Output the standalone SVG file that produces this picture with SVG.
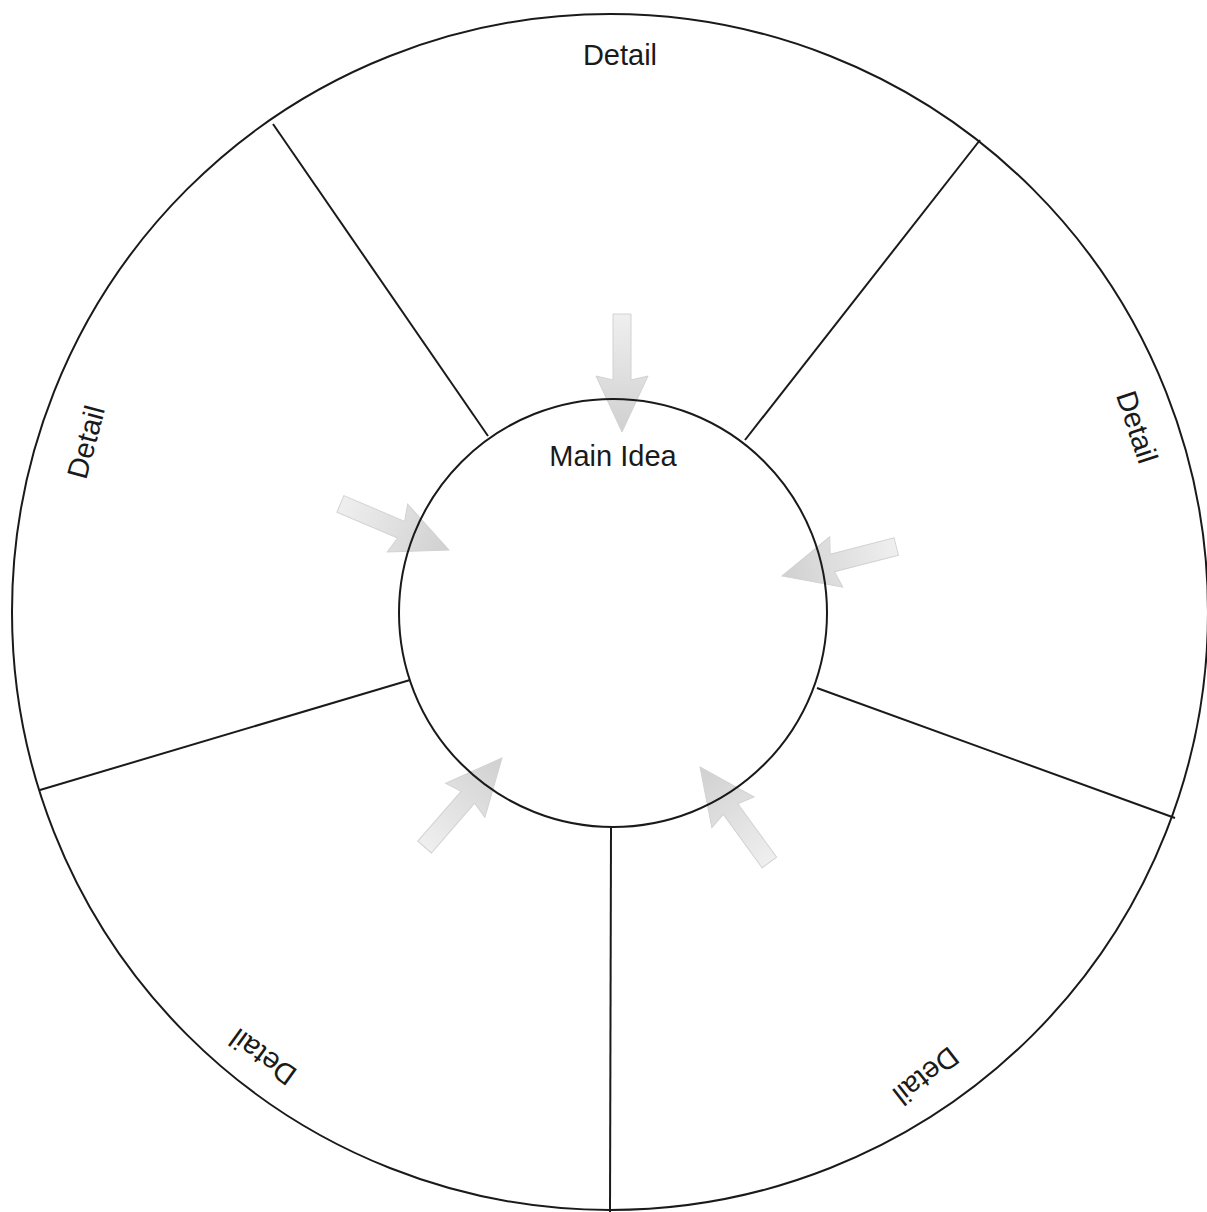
<svg xmlns="http://www.w3.org/2000/svg" width="1207" height="1212" viewBox="0 0 1207 1212">
<style>
.ln{fill:none;stroke:#1a1a1a;stroke-width:2}
.lbl{font-family:"Liberation Sans",Arial,sans-serif;font-size:29px;fill:#1a1a1a;text-anchor:middle}
.arr{fill:url(#g);stroke:#d2d2d2;stroke-width:1}
</style>
<defs>
<linearGradient id="g" x1="0" y1="0" x2="1" y2="0">
<stop offset="0" stop-color="#efefef"/>
<stop offset="1" stop-color="#d0d0d0"/>
</linearGradient>
<polygon id="arrow" points="-118,-9 -52,-9 -56,-26 0,0 -56,26 -52,9 -118,9"/>
</defs>
<rect width="1207" height="1212" fill="#fff"/>
<g id="outer"><circle class="ln" cx="610" cy="612" r="598"/></g>
<g id="connectors">
<line class="ln" x1="488" y1="436" x2="273" y2="124"/>
<line class="ln" x1="745" y1="440" x2="980" y2="140"/>
<line class="ln" x1="817" y1="688" x2="1175" y2="818"/>
<line class="ln" x1="611" y1="828" x2="610" y2="1212"/>
<line class="ln" x1="410" y1="680" x2="40" y2="790"/>
</g>
<g id="arrows">
<use href="#arrow" class="arr" transform="translate(622,432) rotate(90)"/>
<use href="#arrow" class="arr" transform="translate(449,550) rotate(23)"/>
<use href="#arrow" class="arr" transform="translate(782,576) rotate(165.5)"/>
<use href="#arrow" class="arr" transform="translate(502,758) rotate(-49)"/>
<use href="#arrow" class="arr" transform="translate(700,767) rotate(-126)"/>
</g>
<g id="main"><circle class="ln" cx="613" cy="613" r="214"/>
<text class="lbl" x="613" y="466">Main Idea</text></g>
<g id="detail1"><text class="lbl" x="620" y="65">Detail</text></g>
<g id="detail2"><text class="lbl" transform="translate(1137,427) rotate(71.6)" y="10">Detail</text></g>
<g id="detail3"><text class="lbl" transform="translate(926,1076) rotate(142)" y="10">Detail</text></g>
<g id="detail4"><text class="lbl" transform="translate(263,1057) rotate(216)" y="10">Detail</text></g>
<g id="detail5"><text class="lbl" transform="translate(86,442) rotate(-75)" y="10">Detail</text></g>
</svg>
